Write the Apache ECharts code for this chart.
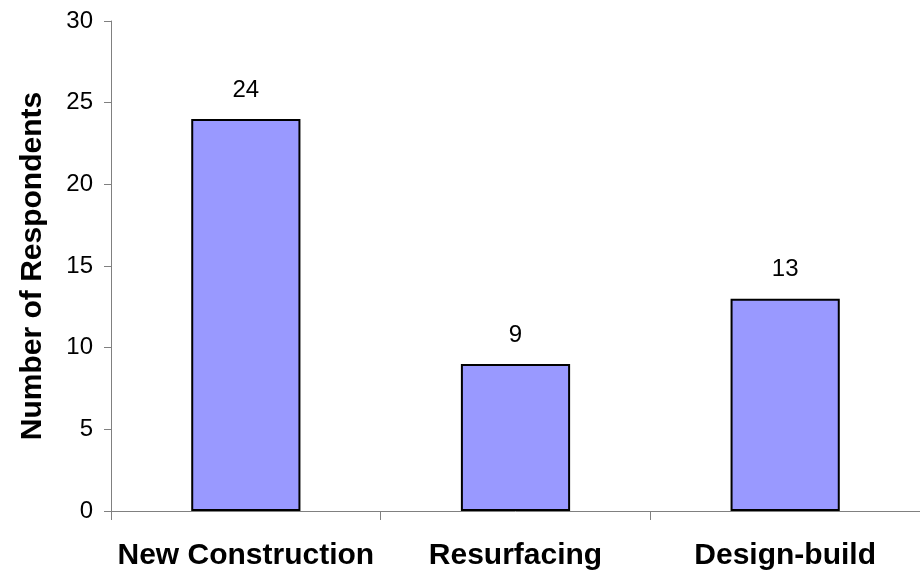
<!DOCTYPE html>
<html>
<head>
<meta charset="utf-8">
<title>Number of Respondents</title>
<script src="https://cdn.jsdelivr.net/npm/echarts@6/dist/echarts.min.js"></script>
<style>
  html, body { margin: 0; padding: 0; background: #ffffff; }
  #chart { width: 920px; height: 572px; }
</style>
</head>
<body>
<div id="chart"></div>
<script>
// Project types and respondent counts
const categories = ['New Construction', 'Resurfacing', 'Design-build'];
const respondents = [24, 9, 13];
const yTicks = { min: 0, max: 30, interval: 5 };
const yTitle = 'Number of Respondents';

const FONT = '"Liberation Sans", Arial, sans-serif';
const axisGrey = '#808080';

const chart = echarts.init(document.getElementById('chart'), null, { renderer: 'canvas' });

chart.setOption({
  animation: false,
  backgroundColor: '#ffffff',
  grid: { left: 111, top: 21, width: 812, bottom: 61, containLabel: false },
  xAxis: {
    type: 'category',
    data: categories,
    boundaryGap: true,
    axisLine: { show: true, lineStyle: { color: axisGrey, width: 1 } },
    axisTick: { show: true, length: 9, alignWithLabel: false, lineStyle: { color: axisGrey, width: 1 } },
    axisLabel: {
      margin: 30,
      color: '#000000',
      fontFamily: FONT,
      fontWeight: 'bold',
      fontSize: 30,
      interval: 0
    },
    splitLine: { show: false }
  },
  yAxis: {
    type: 'value',
    min: yTicks.min,
    max: yTicks.max,
    interval: yTicks.interval,
    name: yTitle,
    nameLocation: 'middle',
    nameGap: 63,
    nameRotate: 90,
    nameTextStyle: {
      color: '#000000',
      fontFamily: FONT,
      fontWeight: 'bold',
      fontSize: 30
    },
    axisLine: { show: true, lineStyle: { color: axisGrey, width: 1 } },
    axisTick: { show: true, length: 7, inside: false, lineStyle: { color: axisGrey, width: 1 } },
    axisLabel: {
      margin: 18,
      color: '#000000',
      fontFamily: FONT,
      fontSize: 24
    },
    splitLine: { show: false }
  },
  series: [{
    type: 'bar',
    data: respondents,
    barWidth: '40.5%',
    itemStyle: {
      color: '#9999ff',
      borderColor: '#000000',
      borderWidth: 2
    },
    label: {
      show: true,
      position: 'top',
      distance: 17,
      color: '#000000',
      fontFamily: FONT,
      fontSize: 24
    }
  }]
});
</script>
</body>
</html>
